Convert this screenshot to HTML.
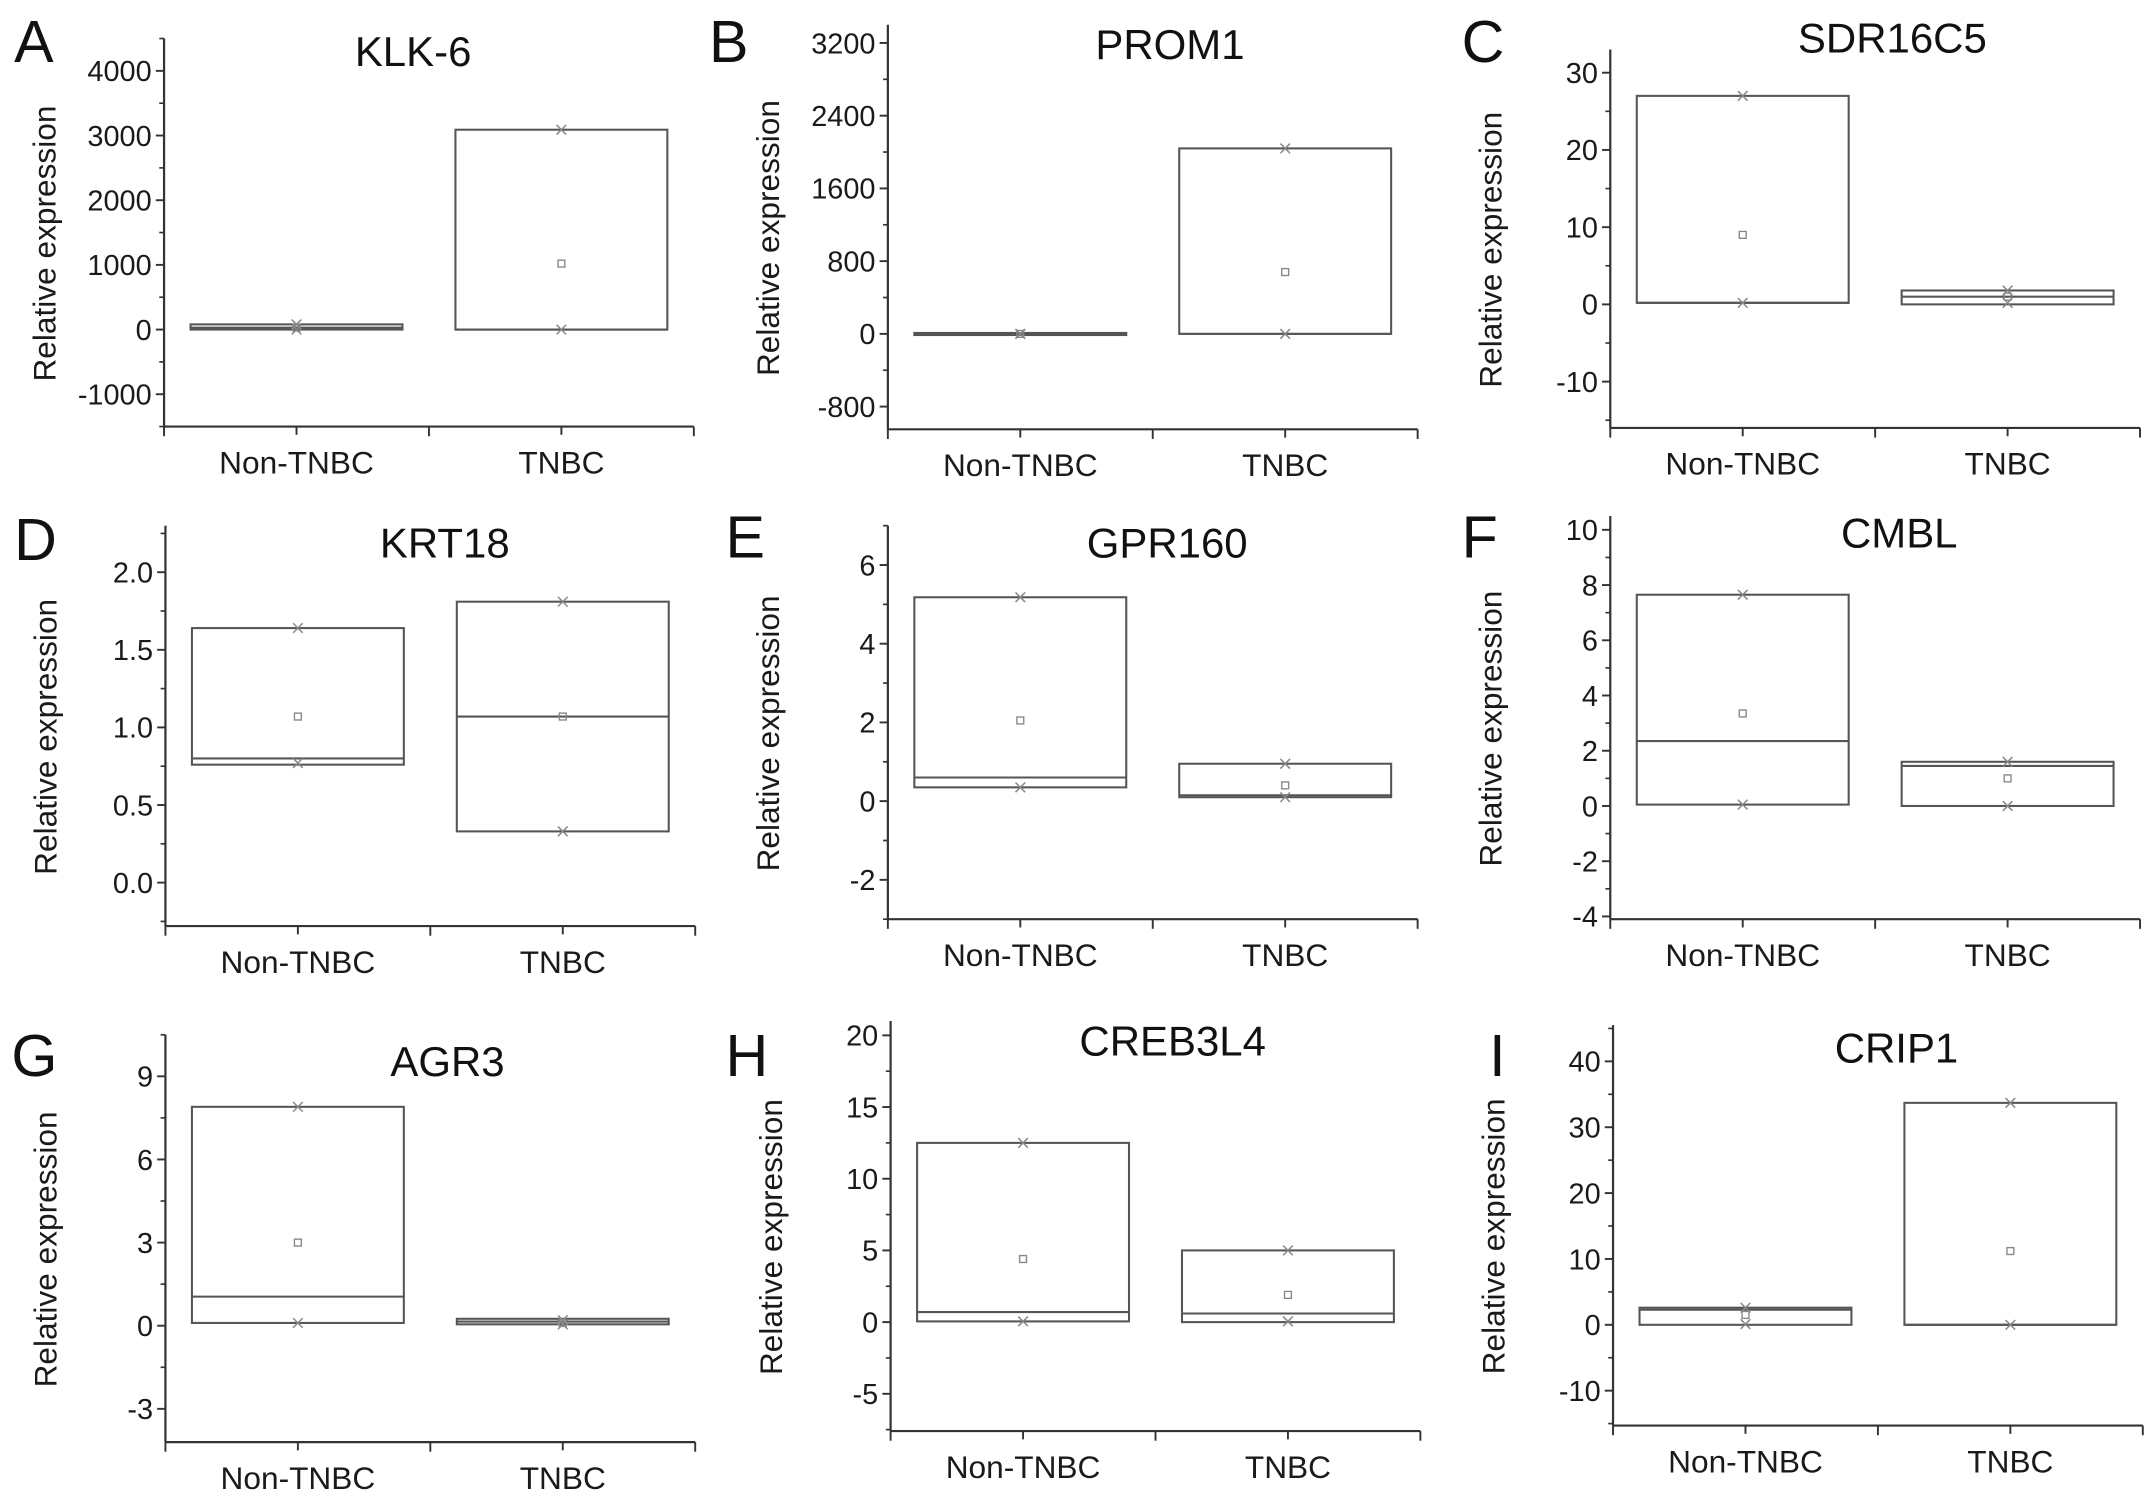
<!DOCTYPE html>
<html><head><meta charset="utf-8"><style>
html,body{margin:0;padding:0;background:#fff;}
svg{display:block;font-family:"Liberation Sans",Arial,sans-serif;}
</style></head><body>
<svg id="fig" width="2150" height="1493" viewBox="0 0 1562 1085" xmlns="http://www.w3.org/2000/svg"></svg>
<script>
const genes = ["KLK-6","PROM1","SDR16C5","KRT18","GPR160","CMBL","AGR3","CREB3L4","CRIP1"];
const letters = ["A","B","C","D","E","F","G","H","I"];
const categories = ["Non-TNBC","TNBC"];
const yTicks = [
  [4000,3000,2000,1000,0,-1000],
  [3200,2400,1600,800,0,-800],
  [30,20,10,0,-10],
  [2.0,1.5,1.0,0.5,0.0],
  [6,4,2,0,-2],
  [10,8,6,4,2,0,-2,-4],
  [9,6,3,0,-3],
  [20,15,10,5,0,-5],
  [40,30,20,10,0,-10]
];
const yTickLabels = [
  ["4000","3000","2000","1000","0","-1000"],
  ["3200","2400","1600","800","0","-800"],
  ["30","20","10","0","-10"],
  ["2.0","1.5","1.0","0.5","0.0"],
  ["6","4","2","0","-2"],
  ["10","8","6","4","2","0","-2","-4"],
  ["9","6","3","0","-3"],
  ["20","15","10","5","0","-5"],
  ["40","30","20","10","0","-10"]
];
const yMin = [-1500,-1050,-16,-0.28,-3,-4.1,-4.2,-7.6,-15.3];
const yMax = [4500,3400,33,2.3,7.0,10.5,10.5,21,45.5];
// [Non-TNBC, TNBC]
const boxLow = [[0,0],[0,0],[0.2,0],[0.76,0.33],[0.35,0.1],[0.05,0],[0.1,0.05],[0.05,0],[0,0]];
const boxHigh = [[80,3090],[10,2040],[27,1.8],[1.64,1.81],[5.18,0.95],[7.65,1.6],[7.9,0.25],[12.5,5.0],[2.6,33.7]];
const medians = [[30,0],[0,0],[0.2,1.0],[0.80,1.07],[0.6,0.15],[2.35,1.45],[1.05,0.15],[0.7,0.6],[2.3,0]];
const means = [[30,1020],[0,680],[9,1.0],[1.07,1.07],[2.05,0.4],[3.35,1.0],[3.0,0.1],[4.4,1.9],[1.5,11.2]];
const maxVals = [[80,3090],[0,2040],[27,1.8],[1.64,1.81],[5.18,0.95],[7.65,1.6],[7.9,0.2],[12.5,5.0],[2.6,33.7]];
const minVals = [[0,0],[0,0],[0.2,0.2],[0.77,0.33],[0.35,0.1],[0.05,0],[0.1,0.05],[0.05,0.05],[0.1,0]];

// layout (display units)
const axX = [119,645,1170,120,645,1170,120,647,1172];
const axTop = [28,18,36,382,382,375,752,742,745];
const axBot = [310,312,311,673,668,668,1048,1040,1036];
const titleX = [300,850,1375,323,848,1380,325,852,1378];
const titleY = [48,43,38,405,405,398,782,767,772];
const letterX = [10,515,1062,10,527,1062,8,527,1082];
const letterY = [45,45,45,407,405,405,782,782,782];
const W = 385;

const NS = "http://www.w3.org/2000/svg";
const svg = document.getElementById("fig");
function mk(tag, attrs, parent){
  const e = document.createElementNS(NS, tag);
  for (const k in attrs) e.setAttribute(k, attrs[k]);
  (parent||svg).appendChild(e);
  return e;
}
for (let p = 0; p < 9; p++) {
  const g = mk("g", {});
  
  
  const x0 = axX[p], yt = axTop[p], yb = axBot[p];
  const ys = v => yb - (v - yMin[p]) / (yMax[p] - yMin[p]) * (yb - yt);
  const xs = f => x0 + f * W;
  const catF = [0.25, 0.75];

  const L = mk("text", {x: letterX[p], y: letterY[p], "font-size": 43, fill: "#111"}, g);
  L.textContent = letters[p];
  
  
  const T = mk("text", {x: titleX[p], y: titleY[p], "font-size": 30.5, "text-anchor": "middle", fill: "#111"}, g);
  T.textContent = genes[p];
  
  

  const ya = mk("line", {x1: x0, y1: yt, x2: x0, y2: yb, stroke: "#333", "stroke-width": 1.6}, g);
  
  
  const xa = mk("line", {x1: x0, y1: yb, x2: x0 + W, y2: yb, stroke: "#333", "stroke-width": 1.6}, g);
  
  

  const tk = yTicks[p];
  const step = tk[0] - tk[1];
  for (let i = 0; i < tk.length; i++) {
    const y = ys(tk[i]);
    mk("line", {x1: x0 - 6, y1: y, x2: x0, y2: y, stroke: "#333", "stroke-width": 1.4}, g);
    const t = mk("text", {x: x0 - 9, y: y + 7.5, "font-size": 21, "text-anchor": "end", fill: "#1a1a1a"}, g);
    t.textContent = yTickLabels[p][i];
    
    
  }
  for (let v = tk[tk.length-1] - step/2; v <= yMax[p]; v += step) {
    if (v < yMin[p]) continue;
    const y = ys(v);
    mk("line", {x1: x0 - 3.5, y1: y, x2: x0, y2: y, stroke: "#333", "stroke-width": 1.2}, g);
  }
  [0, 0.25, 0.5, 0.75, 1].forEach(f => {
    const len = (f === 0.25 || f === 0.75) ? 6 : 7;
    mk("line", {x1: xs(f), y1: yb, x2: xs(f), y2: yb + len, stroke: "#333", "stroke-width": 1.4}, g);
  });
  const yl = mk("text", {x: 0, y: 0, "font-size": 23, "text-anchor": "middle", fill: "#1a1a1a",
    transform: `translate(${x0 - 79},${(yt + yb) / 2 + 8}) rotate(-90)`}, g);
  yl.textContent = "Relative expression";
  
  

  for (let c = 0; c < 2; c++) {
    const cx = xs(catF[c]);
    const cl = mk("text", {x: cx, y: yb + 34, "font-size": 23, "text-anchor": "middle", fill: "#1a1a1a"}, g);
    cl.textContent = categories[c];
    
    
    const hw = 0.2 * W;
    const top = ys(boxHigh[p][c]), bot = ys(boxLow[p][c]);
    const box = mk("rect", {x: cx - hw, y: top, width: 2 * hw, height: Math.max(bot - top, 1.5),
      fill: "none", stroke: "#555", "stroke-width": 1.5}, g);
    
    
    const my = ys(medians[p][c]);
    const med = mk("line", {x1: cx - hw, y1: my, x2: cx + hw, y2: my, stroke: "#555", "stroke-width": 1.5}, g);
    
    
    const mny = ys(means[p][c]);
    const mn = mk("rect", {x: cx - 2.5, y: mny - 2.5, width: 5, height: 5, fill: "none", stroke: "#888", "stroke-width": 1}, g);
    
    
    [maxVals[p][c], minVals[p][c]].forEach(v => {
      const y = ys(v);
      const m = mk("path", {d: `M${cx-3.5},${y-3.5}L${cx+3.5},${y+3.5}M${cx-3.5},${y+3.5}L${cx+3.5},${y-3.5}`, stroke: "#888", "stroke-width": 1.1, fill: "none"}, g);
      
      
    });
  }
}
</script>
</body></html>
